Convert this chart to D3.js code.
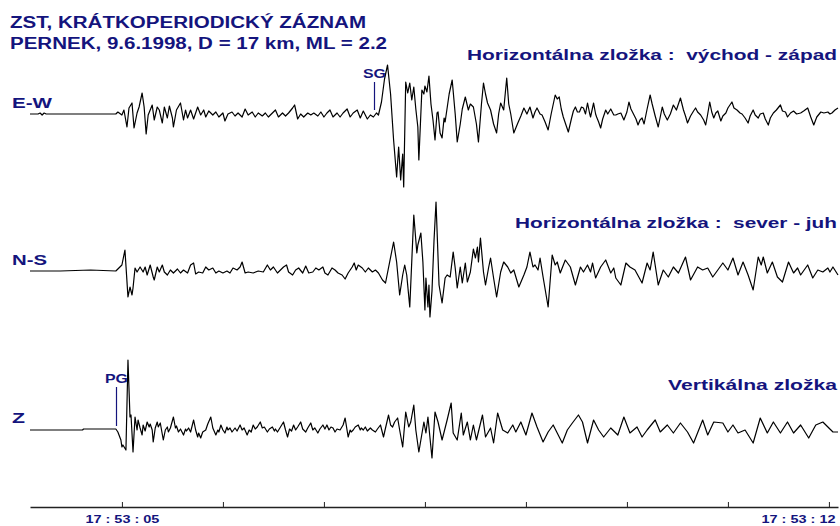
<!DOCTYPE html>
<html>
<head>
<meta charset="utf-8">
<script src="https://cdn.jsdelivr.net/npm/d3@7"></script>
<style>
  html, body { margin: 0; padding: 0; background: #fff; }
  svg { display: block; }
  text { font-family: "Liberation Sans", Arial, sans-serif; font-weight: bold; white-space: pre; }
</style>
</head>
<body>
<svg id="chart" width="840" height="526"></svg>
<script>
// Record: 100 samples per second, sample 0 = 17:53:04.00
const sampleRate = 100;
const recordStart = 4;          // seconds after 17:53:00
const recordEnd = 12.09;

const titleLines = ["ZST, KRÁTKOPERIODICKÝ ZÁZNAM", "PERNEK, 9.6.1998, D = 17 km, ML = 2.2"];
const channels = ["E-W", "N-S", "Z"];
const componentTitles = ["Horizontálna zložka :  východ - západ", "Horizontálna zložka :  sever - juh", "Vertikálna zložka"];

const tickSeconds = [5, 6, 7, 8, 9, 10, 11, 12];
const tickLabels = ["17 : 53 : 05", "", "", "", "", "", "", "17 : 53 : 12"];

// phase picks: name, channel, onset second
const phaseNames = ["SG", "PG"];
const phaseChannels = ["E-W", "Z"];
const phaseSeconds = [7.50, 4.94];

// [sample, amplitude] turning points of each component
const ewTrace = [[9,0],[17,0],[19,1],[21,-1],[23,1],[25,0],[59,0],[94,0],
[96,2],[100,-1],[102,4],[105,-13],[107,6],[110,11],[112,-14],[115,1],[117,7],[120,21],[122,7],[124,-20],[126,-1],[130,9],[132,-6],[135,7],[137,4],[140,-9],[142,7],[145,-4],[147,8],[150,-4],[151,-13],[154,4],[158,11],[161,-6],[163,4],[165,-4],[168,4],[171,-5],[175,7],[178,-1],[181,4],[183,-3],[186,3],[190,-1],[193,2],[196,-3],[200,1],[202,-7],[205,0],[209,2],[212,-2],[215,1],[219,-3],[222,5],[225,-1],[229,2],[232,-3],[235,1],[239,-2],[242,1],[245,-3],[249,1],[252,4],[255,-3],[259,1],[262,-2],[265,1],[269,6],[271,9],[274,-5],[277,0],[280,-3],[284,1],[287,-1],[290,1],[294,-2],[297,2],[300,-3],[303,1],[306,4],[309,-3],[313,1],[316,-3],[319,1],[323,5],[326,-3],[329,1],[333,4],[336,-4],[339,3],[343,-5],[346,-1],[349,-3],[352,1],[354,-1],
[357,12],[360,35],[363,49],[366,20],[369,-26],[372,-63],[374,-33],[376,-66],[378,-40],[379,-73],[381,32],[383,21],[385,31],[387,14],[389,27],[391,5],[393,-13],[394,-46],[397,24],[399,20],[400,28],[402,22],[404,38],[406,10],[408,-6],[410,-26],[412,1],[413,2],[415,-19],[417,-24],[419,-4],[420,-8],[424,20],[427,34],[430,0],[432,-28],[435,-10],[437,5],[440,17],[443,4],[445,10],[448,7],[451,-10],[453,-28],[456,10],[458,31],[460,20],[462,11],[465,4],[468,-10],[471,-19],[473,0],[475,11],[478,4],[481,36],[483,10],[485,0],[488,-19],[490,-14],[492,-9],[495,-2],[498,6],[500,2],[501,0],[504,7],[507,-4],[509,2],[511,6],[514,0],[516,-1],[519,-8],[522,-16],[525,0],[529,19],[531,15],[533,17],[535,5],[537,-3],[540,-12],[542,-18],[545,-5],[547,3],[549,7],[551,2],[553,2],[555,7],[557,6],[559,0],[561,11],[563,1],[564,-3],[567,11],[569,0],[570,-3],[572,-8],[574,-14],[576,-5],[579,4],[581,0],[584,5],[587,-1],[589,-1],[591,0],[594,1],[597,-6],[600,2],[602,12],[604,5],[606,1],[609,-5],[611,-11],[613,-6],[615,-4],[617,-10],[620,5],[623,19],[625,10],[628,-2],[631,-13],[633,-3],[635,7],[637,0],[640,-6],[643,0],[646,9],[649,4],[653,16],[656,4],[658,-2],[660,-9],[663,-2],[666,3],[668,6],[670,2],[673,-1],[676,-6],[678,-11],[680,0],[682,12],[684,2],[686,-4],[688,1],[690,3],[693,-7],[695,-2],[698,1],[700,6],[704,12],[706,6],[709,4],[712,1],[714,0],[717,-4],[720,-9],[722,-2],[725,4],[727,-1],[730,-4],[732,0],[735,1],[737,-5],[740,-11],[742,-4],[745,1],[748,4],[752,9],[754,3],[757,2],[759,-3],[762,1],[765,3],[768,0],[772,1],[775,3],[779,6],[782,-3],[785,-11],[788,-3],[792,2],[795,1],[799,2],[801,0],[803,1],[806,4],[809,6]];

const nsTrace = [[9,0],[39,0],[69,1],[94,0],[96,2],[100,6],[103,21],[106,-26],[108,-16],[110,-24],[111,-17],[113,3],
[115,-1],[118,4],[121,-1],[123,4],[125,-4],[128,6],[131,-6],[132,-9],[135,4],[137,-1],[140,6],[142,-1],[145,-4],[148,1],[151,-2],[155,2],[158,-2],[161,1],[165,-2],[168,6],[171,8],[173,-3],[176,-1],[180,-2],[183,4],[186,1],[190,3],[193,-2],[196,0],[200,-2],[204,0],[207,-2],[210,3],[214,1],[217,4],[219,9],[222,-2],[225,-1],[230,-2],[235,0],[240,-1],[244,6],[247,1],[250,4],[254,-2],[257,1],[260,4],[263,6],[265,-1],[269,-4],[272,1],[275,3],[279,-2],[282,5],[285,-2],[289,-1],[292,3],[295,1],[299,4],[301,-2],[304,-4],[308,3],[311,1],[314,-2],[318,-4],[321,-8],[324,-2],[328,4],[330,8],[332,1],[334,6],[338,3],[341,-1],[344,3],[348,-1],[351,1],[354,-2],[358,-9],[361,-12],
[369,29],[372,9],[375,-24],[378,-4],[380,6],[382,-4],[385,-36],[389,56],[392,18],[393,26],[396,38],[398,9],[400,-39],[401,-7],[403,-36],[404,-14],[405,-46],[407,-20],[409,30],[411,69],[414,-14],[417,-32],[420,-7],[422,-4],[425,-6],[428,19],[430,3],[432,-17],[435,4],[437,-12],[440,8],[442,-11],[445,-1],[448,22],[450,13],[452,24],[453,9],[455,33],[458,-1],[460,-14],[463,3],[465,13],[468,-7],[471,-26],[475,-1],[478,9],[482,4],[485,-2],[488,1],[493,-16],[498,-4],[501,4],[504,19],[507,4],[509,6],[512,1],[514,13],[517,-6],[522,-36],[526,16],[529,6],[531,9],[534,-2],[539,11],[544,4],[549,-14],[554,4],[557,-1],[561,6],[564,-1],[566,8],[569,-7],[574,4],[579,11],[584,-2],[587,3],[589,-7],[594,-14],[599,8],[603,4],[608,1],[615,-12],[620,8],[623,1],[626,19],[631,-14],[636,1],[641,-6],[646,4],[651,-2],[658,14],[663,-9],[670,4],[675,1],[680,3],[685,-6],[690,1],[695,8],[700,1],[705,13],[710,-4],[715,9],[720,-4],[725,-19],[730,14],[733,6],[735,14],[739,-2],[744,9],[749,-6],[754,-11],[760,9],[765,-2],[769,3],[772,-4],[779,6],[784,-7],[789,1],[794,-1],[799,3],[801,-1],[804,4],[809,-4]];

const zTrace = [[9,0],[61,0],[62,1],[94,1],[96,-2],[99,-10],[100,-17],[101,-15],[104,-20],[106,70],[108,13],[109,15],[111,-22],
[113,13],[115,0],[116,10],[118,2],[120,-5],[121,5],[123,-1],[125,8],[127,3],[128,6],[130,0],[131,-12],[133,2],[135,8],[136,3],[138,7],[141,-10],[143,0],[145,3],[146,-2],[148,2],[151,13],[153,2],[154,4],[156,-2],[158,1],[161,-5],[163,1],[164,-1],[166,2],[168,-2],[171,10],[173,0],[175,-7],[176,-3],[178,-8],[180,-2],[183,0],[185,6],[188,13],[190,2],[193,-5],[195,0],[196,-2],[198,5],[200,0],[202,-3],[204,3],[205,0],[207,2],[209,-2],[212,2],[214,-1],[217,5],[219,0],[221,2],[224,-5],[226,0],[228,-2],[230,5],[232,1],[234,3],[237,8],[239,2],[241,3],[244,-2],[246,1],[249,3],[251,-1],[252,1],[254,-2],[257,3],[260,8],[262,0],[264,-7],[266,1],[268,-1],[270,5],[272,0],[274,3],[277,8],[279,1],[282,-2],[284,2],[287,7],[289,0],[291,2],[294,-3],[296,1],[299,5],[301,1],[303,5],[305,0],[307,3],[309,2],[311,-2],[313,1],[316,0],[319,5],[321,12],[324,-7],[326,0],[327,-2],[329,0],[331,3],[334,5],[336,0],[337,2],[339,0],[341,3],[343,-1],[346,2],[348,0],[351,-2],[353,1],[356,5],[359,-7],[361,2],[364,15],[366,5],[368,3],[370,8],[373,12],[375,0],[378,-17],[381,18],[384,3],[386,8],[389,25],[391,0],[394,-22],
[399,8],[401,-3],[403,13],[407,-28],[410,18],[413,8],[417,-10],[422,10],[426,27],[428,-3],[432,-10],[436,17],[438,-5],[442,8],[445,-10],[448,5],[451,-10],[457,15],[460,-7],[465,2],[468,-13],[472,17],[477,0],[482,-3],[487,5],[490,-2],[495,8],[500,-5],[506,17],[511,3],[517,-12],[522,-2],[527,5],[536,-13],[541,0],[546,7],[552,15],[556,8],[561,-13],[567,10],[572,0],[577,-7],[584,2],[591,-5],[597,13],[603,-3],[610,3],[615,-7],[620,0],[628,10],[633,-2],[640,5],[646,-3],[653,7],[660,-2],[666,-13],[675,10],[680,-5],[686,8],[695,7],[700,-2],[705,5],[710,-3],[717,0],[725,-13],[732,12],[739,-3],[745,8],[752,-3],[759,8],[765,-3],[772,5],[780,-8],[787,5],[794,8],[799,3],[804,-2],[809,-2]];

const traces = [ewTrace, nsTrace, zTrace];

// ---- layout ----
const ink = "#14147d";
const svg = d3.select("#chart");
const baselines = [114, 271, 430];
const titleY = [60, 228, 390];
const channelY = [108, 265, 423];
const channelLen = [40, 35, 13];
const componentLen = [370, 322, 169];
const axisY = 507;

const x = d3.scaleLinear().domain([recordStart + 0.09, recordEnd]).range([30, 838]);
const sampleTime = i => recordStart + i / sampleRate;

// title
svg.selectAll("text.title").data(titleLines).join("text")
  .attr("class", "title")
  .attr("x", 10).attr("y", (d, i) => [28, 49][i])
  .attr("font-size", 16).attr("fill", ink)
  .attr("textLength", (d, i) => [356, 377][i]).attr("lengthAdjust", "spacingAndGlyphs")
  .text(d => d);

channels.forEach((ch, k) => {
  const base = baselines[k];
  const y = d3.scaleLinear().domain([-80, 80]).range([base + 80, base - 80]);
  const g = svg.append("g");

  g.append("text").attr("x", 837).attr("y", titleY[k]).attr("text-anchor", "end")
    .attr("font-size", 15).attr("fill", ink)
    .attr("textLength", componentLen[k]).attr("lengthAdjust", "spacingAndGlyphs")
    .text(componentTitles[k]);

  g.append("text").attr("x", 12).attr("y", channelY[k])
    .attr("font-size", 15).attr("fill", ink)
    .attr("textLength", channelLen[k]).attr("lengthAdjust", "spacingAndGlyphs")
    .text(ch);

  const line = d3.line().x(d => x(sampleTime(d[0]))).y(d => y(d[1]));
  g.append("path").datum(traces[k])
    .attr("d", line).attr("fill", "none")
    .attr("stroke", "#000").attr("stroke-width", 1.2).attr("stroke-linejoin", "round");

  phaseNames.forEach((p, j) => {
    if (phaseChannels[j] !== ch) return;
    const px = Math.round(x(phaseSeconds[j])) + 0.5;
    const top = ch === "Z" ? base - 43 : base - 32;
    g.append("line").attr("x1", px).attr("x2", px)
      .attr("y1", top).attr("y2", base - 4)
      .attr("stroke", ink).attr("stroke-width", 1.2);
    g.append("text").attr("x", px).attr("y", top - 4).attr("text-anchor", "middle")
      .attr("font-size", 13).attr("fill", ink)
      .attr("textLength", 23).attr("lengthAdjust", "spacingAndGlyphs")
      .text(p);
  });
});

// time axis
const axis = d3.axisBottom(x)
  .tickValues(tickSeconds)
  .tickSizeInner(-5).tickSizeOuter(0).tickPadding(11)
  .tickFormat((d, i) => tickLabels[i]);

const ax = svg.append("g").attr("transform", `translate(0,${axisY})`).call(axis);
ax.select(".domain").attr("stroke", "#222").attr("stroke-width", 1.5);
ax.selectAll(".tick line").attr("stroke", "#222").attr("stroke-width", 1);
ax.selectAll(".tick text")
  .attr("font-family", "'Liberation Sans', Arial, sans-serif")
  .attr("font-weight", "bold").attr("font-size", 11.5).attr("fill", ink)
  .attr("dy", null).attr("y", 15.5)
  .attr("textLength", d => tickLabels[tickSeconds.indexOf(d)] ? 74 : null)
  .attr("lengthAdjust", "spacingAndGlyphs")
  .attr("text-anchor", d => d === 12 ? "end" : "middle")
  .attr("x", d => d === 12 ? 835 - x(d) : 0);
</script>
</body>
</html>
